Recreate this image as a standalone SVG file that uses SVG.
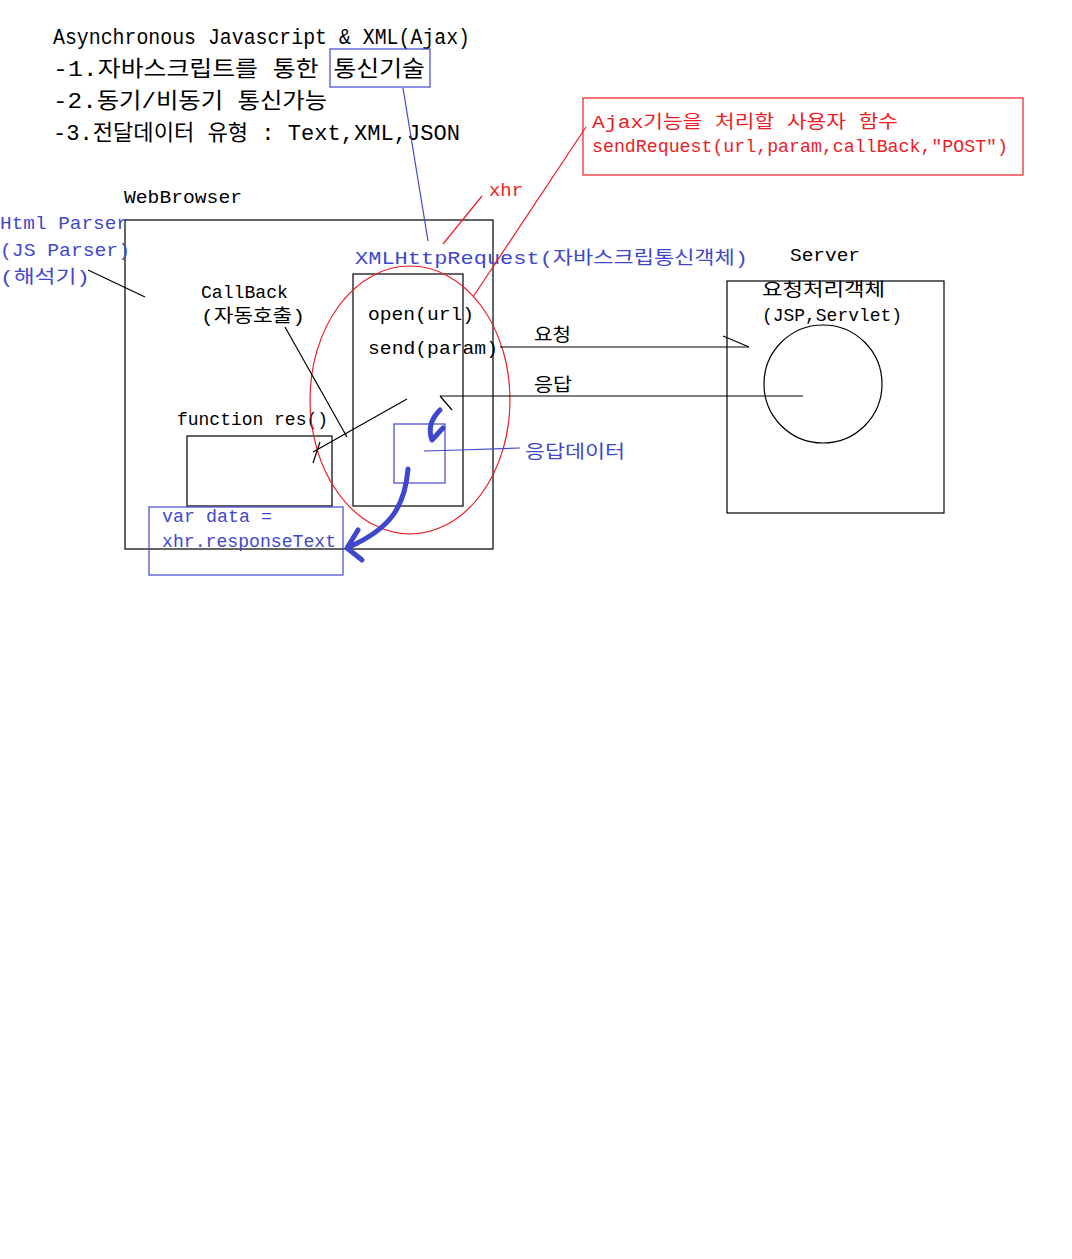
<svg xmlns="http://www.w3.org/2000/svg" width="1072" height="1259" viewBox="0 0 1072 1259">
<style>
text{font-family:"Liberation Mono","Noto Sans CJK KR",monospace;}
.t{font-size:22px;fill:#000}
.k{font-size:18px;fill:#000}
.b{font-size:18px;fill:#3f48cc}
.r{font-size:18px;fill:#ee1c24}
.ln{stroke:#000;stroke-width:1.2;fill:none}
.bl{stroke:#3f48cc;stroke-width:1.2;fill:none}
.rl{stroke:#ee1c24;stroke-width:1.2;fill:none}
.hand{stroke:#3f48cc;stroke-width:5;fill:none;stroke-linecap:round;stroke-linejoin:round}
</style>
<rect width="1072" height="1259" fill="#fff"/>
<g id="title">
<text class="t" x="53" y="44" textLength="417" lengthAdjust="spacingAndGlyphs">Asynchronous Javascript &amp; XML(Ajax)</text>
<text class="t" x="53" y="76" textLength="372" lengthAdjust="spacingAndGlyphs">-1.자바스크립트를 통한 통신기술</text>
<text class="t" x="53" y="108" textLength="274" lengthAdjust="spacingAndGlyphs">-2.동기/비동기 통신가능</text>
<text class="t" x="53" y="140" textLength="407" lengthAdjust="spacingAndGlyphs">-3.전달데이터 유형 : Text,XML,JSON</text>
<rect class="bl" x="330" y="49" width="100" height="38"/>
</g>
<g id="userfunc">
<rect class="rl" x="583" y="98" width="440" height="77"/>
<text class="r" x="592" y="128" textLength="306" lengthAdjust="spacingAndGlyphs">Ajax기능을 처리할 사용자 함수</text>
<text class="r" x="592" y="152" textLength="416" lengthAdjust="spacingAndGlyphs">sendRequest(url,param,callBack,"POST")</text>
</g>
<g id="webbrowser">
<text class="k" x="124" y="203" font-size="20" textLength="118" lengthAdjust="spacingAndGlyphs">WebBrowser</text>
<rect class="ln" x="125" y="220" width="368" height="329"/>
</g>
<g id="parser">
<text class="b" x="0" y="229" textLength="128" lengthAdjust="spacingAndGlyphs">Html Parser</text>
<text class="b" x="0" y="256" textLength="130" lengthAdjust="spacingAndGlyphs">(JS Parser)</text>
<text class="b" x="0" y="283" textLength="90" lengthAdjust="spacingAndGlyphs">(해석기)</text>
</g>
<g id="callback">
<text class="k" x="201" y="298" font-size="17" textLength="87" lengthAdjust="spacingAndGlyphs">CallBack</text>
<text class="k" x="201" y="322" font-size="17" textLength="104" lengthAdjust="spacingAndGlyphs">(자동호출)</text>
</g>
<g id="function-res">
<text class="k" x="177" y="425" font-size="17" textLength="151" lengthAdjust="spacingAndGlyphs">function res()</text>
<rect class="ln" x="187" y="436" width="145" height="70"/>
</g>
<g id="xhr-object">
<text class="b" x="355" y="264" textLength="393" lengthAdjust="spacingAndGlyphs">XMLHttpRequest(자바스크립통신객체)</text>
<text class="r" x="489" y="196" textLength="34" lengthAdjust="spacingAndGlyphs">xhr</text>
<rect class="ln" x="353" y="274" width="110" height="232"/>
<text class="k" x="368" y="320" textLength="106" lengthAdjust="spacingAndGlyphs">open(url)</text>
<text class="k" x="368" y="354" textLength="130" lengthAdjust="spacingAndGlyphs">send(param)</text>
<ellipse class="rl" cx="410" cy="400" rx="100" ry="134"/>
</g>
<g id="response-data">
<rect class="bl" x="394" y="424" width="51" height="59"/>
<text class="b" x="525" y="458" textLength="100" lengthAdjust="spacingAndGlyphs">응답데이터</text>
</g>
<g id="var-data">
<rect class="bl" x="149" y="507" width="194" height="68"/>
<text class="b" x="162" y="522" font-size="17" textLength="110" lengthAdjust="spacingAndGlyphs">var data =</text>
<text class="b" x="162" y="547" font-size="17" textLength="174" lengthAdjust="spacingAndGlyphs">xhr.responseText</text>
</g>
<g id="server">
<text class="k" x="790" y="261" textLength="70" lengthAdjust="spacingAndGlyphs">Server</text>
<rect class="ln" x="727" y="281" width="217" height="232"/>
<text class="k" x="762" y="296" textLength="123" lengthAdjust="spacingAndGlyphs">요청처리객체</text>
<text class="k" x="762" y="321" textLength="140" lengthAdjust="spacingAndGlyphs">(JSP,Servlet)</text>
<circle class="ln" cx="823" cy="384" r="59"/>
</g>
<g id="connectors">
<line class="bl" x1="403" y1="88" x2="428" y2="241"/>
<line class="rl" x1="586" y1="127" x2="473" y2="297"/>
<line class="rl" x1="482" y1="196" x2="443" y2="244"/>
<line class="ln" x1="88" y1="270" x2="145" y2="297"/>
<line class="ln" x1="285" y1="327" x2="347" y2="437"/>
<line class="ln" x1="407" y1="399" x2="313" y2="452"/>
<line class="ln" x1="320" y1="442" x2="313" y2="463"/>
<line class="ln" x1="500" y1="347" x2="749" y2="347"/>
<line class="ln" x1="723" y1="336" x2="749" y2="347"/>
<text class="k" x="534" y="341" textLength="37" lengthAdjust="spacingAndGlyphs">요청</text>
<line class="ln" x1="440" y1="396" x2="803" y2="396"/>
<line class="ln" x1="440" y1="396" x2="452" y2="410"/>
<text class="k" x="534" y="391" textLength="38" lengthAdjust="spacingAndGlyphs">응답</text>
<polyline class="bl" points="424,451 460,450 520,448"/>
<path class="hand" d="M440,410 Q426,424 432,440 L443,428"/>
<path class="hand" d="M408,469 C405,505 392,528 349,547"/>
<path class="hand" d="M358,530 L347,548 L362,560"/>
</g>
</svg>
